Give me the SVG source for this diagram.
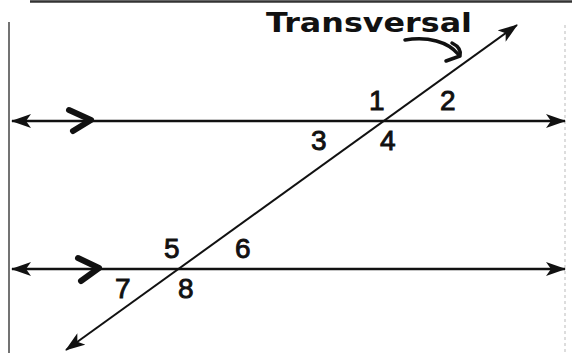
<svg xmlns="http://www.w3.org/2000/svg" width="572" height="353" viewBox="0 0 572 353">
<style>
.line{stroke:#111;stroke-width:2.5;fill:none}
.tr{stroke:#111;stroke-width:2;fill:none}
.chev{stroke:#111;stroke-width:6;fill:none;stroke-linecap:round;stroke-linejoin:round}
.num{font-family:"Liberation Sans",Arial,sans-serif;font-size:28px;fill:#111;stroke:#111;stroke-width:0.9}
.hand{font-family:"DejaVu Sans",sans-serif;font-size:27px;font-weight:bold;fill:#111}
</style>
<defs>
<marker id="ah" viewBox="0 0 20 14" refX="19" refY="7" markerWidth="20" markerHeight="14" markerUnits="userSpaceOnUse" orient="auto-start-reverse">
<path d="M0,0 L20,7 L0,14 L5,7 Z" fill="#111"/>
</marker>
</defs>
<rect width="572" height="353" fill="#fff"/>
<g id="frame">
<line x1="30" y1="1.5" x2="572" y2="1.5" stroke="#333" stroke-width="2.5"/>
<line x1="9" y1="22" x2="9" y2="353" stroke="#444" stroke-width="1.5"/>
<line x1="565" y1="25" x2="565" y2="353" stroke="#bbb" stroke-width="1" stroke-dasharray="3,3"/>
</g>
<g id="connectors">
<line id="upper" class="line" x1="12" y1="121" x2="565" y2="121" marker-start="url(#ah)" marker-end="url(#ah)"/>
<line id="lower" class="line" x1="12" y1="269" x2="565" y2="269" marker-start="url(#ah)" marker-end="url(#ah)"/>
<line id="transversal" class="tr" x1="66" y1="350" x2="517" y2="25" marker-start="url(#ah)" marker-end="url(#ah)"/>
<path class="chev" d="M69,110 L91,120 L73,131"/>
<path class="chev" d="M78,258 L99,268 L81,281"/>
<path d="M405,40 C428,36 448,42 458,54" stroke="#111" stroke-width="3.5" fill="none" stroke-linecap="round"/>
<path d="M452,43 Q462,48 460,56 L446,61" stroke="#111" stroke-width="3.5" fill="none" stroke-linecap="round" stroke-linejoin="round"/>
</g>
<g id="label-transversal">
<text class="hand" x="266" y="32" textLength="206" lengthAdjust="spacingAndGlyphs">Transversal</text>
</g>
<g id="labels">
<text class="num" x="369" y="110">1</text>
<text class="num" x="440" y="110">2</text>
<text class="num" x="311" y="150">3</text>
<text class="num" x="380" y="150">4</text>
<text class="num" x="164" y="258">5</text>
<text class="num" x="235" y="258">6</text>
<text class="num" x="115" y="298">7</text>
<text class="num" x="178" y="298">8</text>
</g>
</svg>
